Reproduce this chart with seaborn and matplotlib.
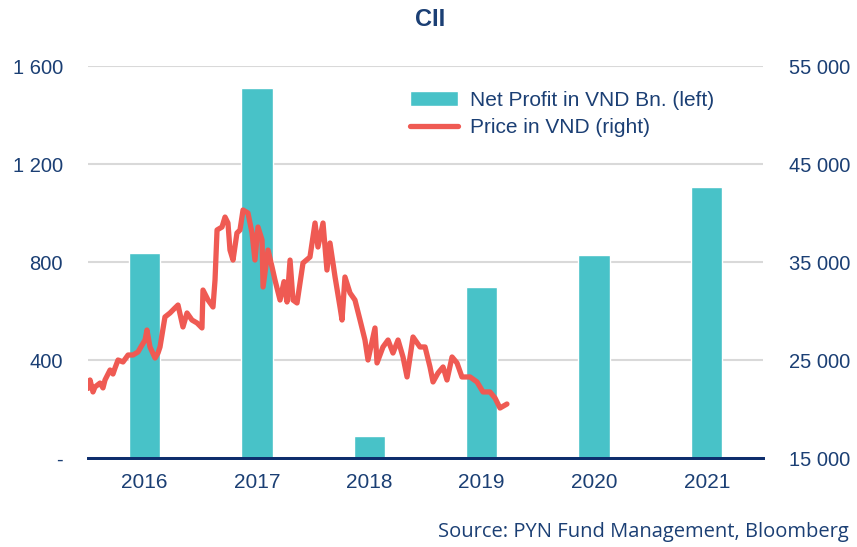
import matplotlib
matplotlib.use("Agg")
import matplotlib.pyplot as plt
import matplotlib.ticker as mticker
import numpy as np
import pandas as pd
import seaborn as sns

# Net profit (bars, left axis)
years = ["2016", "2017", "2018", "2019", "2020", "2021"]
net_profit = [837, 1510, 90, 698, 829, 1106]

# Price (line, right axis); time in decimal years
price_time = [
    2016.000, 2016.018, 2016.044, 2016.062, 2016.107, 2016.133, 2016.151, 2016.196,
    2016.222, 2016.240, 2016.267, 2016.311, 2016.356, 2016.400, 2016.444, 2016.480,
    2016.507, 2016.524, 2016.551, 2016.596, 2016.622, 2016.640, 2016.684, 2016.729,
    2016.773, 2016.800, 2016.844, 2016.880, 2016.924, 2016.969, 2017.013, 2017.022,
    2017.067, 2017.111, 2017.129, 2017.147, 2017.191, 2017.218, 2017.244, 2017.262,
    2017.289, 2017.324, 2017.351, 2017.378, 2017.422, 2017.458, 2017.484, 2017.511,
    2017.547, 2017.556, 2017.600, 2017.636, 2017.662, 2017.707, 2017.742, 2017.769,
    2017.796, 2017.822, 2017.858, 2017.911, 2017.973, 2018.018, 2018.044, 2018.089,
    2018.124, 2018.151, 2018.196, 2018.240, 2018.258, 2018.284, 2018.329, 2018.373,
    2018.418, 2018.462, 2018.489, 2018.551, 2018.569, 2018.622, 2018.667, 2018.711,
    2018.756, 2018.800, 2018.836, 2018.889, 2018.951, 2018.996, 2019.040, 2019.067,
    2019.111, 2019.156, 2019.191, 2019.236, 2019.280, 2019.324, 2019.396, 2019.458,
    2019.511, 2019.573, 2019.618, 2019.662, 2019.724,
]
price = [
    22100, 22960, 21740, 22250, 22650, 22150, 22960, 23980,
    23570, 24180, 25000, 24800, 25510, 25510, 25820, 26530,
    27040, 28060, 26330, 25200, 25710, 26330, 29390, 29800,
    30310, 30610, 28370, 29800, 29080, 28780, 28270, 32140,
    31120, 30410, 33160, 38270, 38570, 39590, 38980, 36220,
    35200, 37960, 38270, 40310, 40000, 37960, 35200, 38570,
    37250, 32450, 36220, 34490, 33160, 31120, 33000, 30920,
    35200, 31120, 30820, 34900, 35510, 38980, 36530, 38980,
    34180, 36940, 33470, 30410, 29080, 33470, 31840, 31120,
    29080, 27040, 25000, 28270, 24700, 26330, 27040, 25710,
    27040, 25310, 23270, 27350, 26330, 26330, 24290, 22760,
    23670, 24290, 22960, 25310, 24700, 23270, 23270, 22760,
    21740, 21740, 21120, 20100, 20510,
]

navy = "#1B3F74"
teal = "#48C2C8"
red = "#EF5A53"

sns.set_theme(style="white")
plt.rcParams["font.family"] = ["Liberation Sans", "DejaVu Sans"]

fig = plt.figure(figsize=(8.57, 5.47), dpi=100)
ax = fig.add_axes([0.1027, 0.1627, 0.7876, 0.7166])

bars_df = pd.DataFrame({"year": years, "profit": net_profit})
sns.barplot(data=bars_df, x="year", y="profit", color=teal, saturation=1,
            width=0.28, ax=ax, label="Net Profit in VND Bn. (left)", zorder=2)

ax.set_ylim(0, 1600)
ax.set_yticks([0, 400, 800, 1200, 1600])
ax.yaxis.set_major_formatter(mticker.FuncFormatter(
    lambda v, p: "-" if v == 0 else f"{int(v):,}".replace(",", " ")))
ax.grid(axis="y", color="#D9D9D9", linewidth=1.5, zorder=0)
ax.set_axisbelow(True)
ax.set_xlabel("")
ax.set_ylabel("")
ax.set_xlim(-0.5, 5.5)

ax2 = ax.twinx()
line_df = pd.DataFrame({"pos": np.array(price_time) - 2016.5, "price": price})
sns.lineplot(data=line_df, x="pos", y="price", color=red, linewidth=3.8,
             ax=ax2, label="Price in VND (right)")
ax2.set_ylim(15000, 55000)
ax2.set_yticks([15000, 25000, 35000, 45000, 55000])
ax2.yaxis.set_major_formatter(mticker.FuncFormatter(
    lambda v, p: f"{int(v):,}".replace(",", " ")))
ax2.set_xlim(-0.5, 5.5)
ax2.set_xlabel("")
ax2.set_ylabel("")
ax2.grid(False)

for a in (ax, ax2):
    for s in ("top", "left", "right"):
        a.spines[s].set_visible(False)
    a.spines["bottom"].set_color("#0D2D6C")
    a.spines["bottom"].set_linewidth(2)
    a.tick_params(axis="both", length=0, labelsize=14.5, labelcolor=navy)
ax.tick_params(axis="y", pad=18)
ax2.tick_params(axis="y", pad=18.5)
ax.tick_params(axis="x", pad=11, labelsize=15)

h1, l1 = ax.get_legend_handles_labels()
h2, l2 = ax2.get_legend_handles_labels()
if ax2.get_legend() is not None:
    ax2.get_legend().remove()
if ax.get_legend() is not None:
    ax.get_legend().remove()
leg = ax2.legend(h1 + h2, l1 + l2, loc="upper left", bbox_to_anchor=(0.449, 0.985),
                 frameon=False, fontsize=15, handlelength=2.3, handletextpad=0.58,
                 labelspacing=0.42)
for t in leg.get_texts():
    t.set_color(navy)

fig.text(0.502, 0.965, "CII", ha="center", va="center", fontsize=17,
         fontweight="bold", color=navy)
fig.text(0.99, 0.028, "Source: PYN Fund Management, Bloomberg", ha="right",
         va="center", fontsize=14.5, color=navy, family=["Open Sans", "DejaVu Sans"])

fig.savefig("out.png", dpi=100)
